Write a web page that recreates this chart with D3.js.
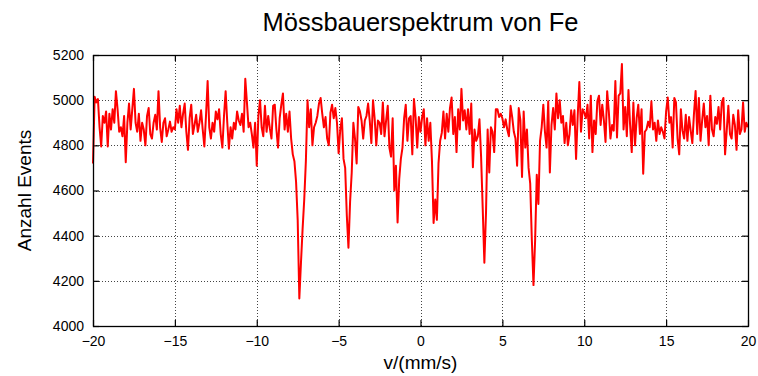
<!DOCTYPE html>
<html>
<head>
<meta charset="utf-8">
<script src="https://cdn.jsdelivr.net/npm/d3@7/dist/d3.min.js"></script>
<style>
  html, body { margin: 0; padding: 0; background: #fff; }
  svg { display: block; font-family: "Liberation Sans", Arial, Helvetica, sans-serif; }
</style>
</head>
<body>
<svg id="chart" width="758" height="376"></svg>
<script>
// Mössbauer spectrum of iron: counts per channel over the velocity sweep
const titleText = "Mössbauerspektrum von Fe";
const xLabelText = "v/(mm/s)";
const yLabelText = "Anzahl Events";

const velocityMin = -20;
const velocityMax = 20;

const xTicks = [-20, -15, -10, -5, 0, 5, 10, 15, 20];
const yTicks = [4000, 4200, 4400, 4600, 4800, 5000, 5200];

// counts per channel, channels evenly spaced from -20 to +20 mm/s
const counts = [
  4720, 5015, 4990, 5005, 4880, 4795, 4930, 4900, 4950, 4795,
  4940, 4870, 4960, 4900, 5040, 4960, 4860, 4880, 4840, 4930,
  4725, 4900, 4985, 4870, 4960, 5050, 4900, 4860, 4940, 4820,
  4900, 4870, 4800, 4930, 4965, 4850, 4830, 4900, 4935, 4870,
  5040, 4880, 4815, 4900, 4920, 4840, 4870, 4905, 4860, 4880,
  4870, 4960, 4900, 4975, 4880, 4940, 4985, 4860, 4780, 4920,
  4980, 4850, 4890, 4935, 4860, 4900, 4955, 4870, 4795, 4930,
  5085, 4880, 4830, 4900, 4860, 4950, 4915, 4960, 4850, 4790,
  4930, 5040, 4900, 4785, 4880, 4830, 4900, 4870, 4950, 4910,
  4890, 4940, 4860, 5095, 4990, 4880, 4900, 4850, 4790, 4900,
  4710, 4930, 5000, 4880, 4840, 4975, 4860, 4930, 4875, 4830,
  4975, 4980, 4870, 4790, 4920, 4980, 5030, 4870, 4940, 4860,
  4950, 4830, 4760, 4730, 4640, 4470, 4122, 4280, 4430, 4560,
  4730, 5000, 4880, 4960, 4800, 4880, 4900, 4930, 4985, 5010,
  4940, 4880, 4925, 4830, 4800, 4945, 4980, 4920, 4965, 4900,
  4765, 4870, 4920, 4740, 4700, 4490, 4347, 4550, 4680, 4900,
  4830, 4720, 4970, 4950, 4910, 4830, 4910, 4930, 4985, 4910,
  4810, 5000, 4920, 4800, 4910, 4900, 4850, 4990, 4840, 4910,
  4975, 4790, 4750, 4920, 4600, 4710, 4458, 4650, 4740, 4790,
  4920, 4980, 4820, 4920, 4930, 4760, 5005, 4925, 4790, 4925,
  4860, 4925, 4960, 4800, 4920, 4820, 4900, 4730, 4456, 4560,
  4470, 4720, 4820, 4855, 4950, 4830, 4940, 4860, 4965, 5012,
  4850, 4925, 4770, 4960, 4870, 5050, 4910, 4955, 4870, 4960,
  4850, 4985, 4703, 4870, 4820, 4840, 4915, 4750, 4520, 4280,
  4500, 4870, 4680, 4880, 4860, 4770, 4960, 4960, 4925, 4940,
  4920, 4880, 4915, 4870, 4840, 4975, 4925, 4860, 4830, 4710,
  4965, 4910, 4660, 4950, 4790, 4870, 4700, 4630, 4380, 4181,
  4380, 4670, 4540, 4820, 4880, 4980, 4860, 4790, 4995, 4680,
  4890, 4965, 4870, 5030, 4920, 5000, 4900, 4930, 4810, 4900,
  4800, 4850, 4955, 4890, 4955, 4740, 4930, 5080, 4860, 4960,
  4945, 4920, 4980, 4830, 5020, 4770, 4910, 4850, 4995, 5020,
  4890, 4980, 4910, 4815, 5040, 4950, 4830, 4890, 4865, 5085,
  4835, 5020, 5030, 5160, 4870, 4970, 4840, 5045, 4890, 4770,
  4990, 4800, 4920, 4980, 4850, 4960, 4674, 4860, 4870, 4905,
  4880, 4995, 4870, 4900, 4820, 4910, 4850, 4880, 4860, 4830,
  4950, 5012, 4900, 4925, 4790, 5010, 4990, 4830, 4760, 4960,
  4865, 4830, 4935, 4820, 4925, 4865, 4810, 4940, 5041, 4850,
  5010, 4820, 4910, 4985, 4880, 4930, 4800, 5020, 4870, 4840,
  4925, 4895, 4970, 4870, 4990, 5010, 4760, 4865, 4975, 4850,
  4830, 4935, 4890, 4780, 4955, 4850, 4870, 4990, 4860, 4900,
  4880
];

const svg = d3.select("#chart");
const margin = { left: 93, right: 10, top: 55, bottom: 50 };
const W = 758, H = 376;
const plotL = margin.left, plotR = W - margin.right;
const plotT = margin.top, plotB = H - margin.bottom;

const x = d3.scaleLinear().domain([velocityMin, velocityMax]).range([plotL, plotR]);
const y = d3.scaleLinear().domain([4000, 5200]).range([plotB, plotT]);

const channelScale = d3.scaleLinear()
  .domain([0, counts.length - 1])
  .range([velocityMin, velocityMax]);

const points = counts.map((c, i) => ({ v: channelScale(i), c }));

// dotted grid
const grid = svg.append("g").attr("class", "grid")
  .attr("stroke", "#444").attr("stroke-width", 1)
  .attr("stroke-dasharray", "1,2").attr("shape-rendering", "crispEdges");
grid.selectAll("line.gx")
  .data(xTicks.filter(t => t > velocityMin && t < velocityMax))
  .join("line").attr("class", "gx")
  .attr("x1", d => Math.round(x(d)) + 0.5).attr("x2", d => Math.round(x(d)) + 0.5)
  .attr("y1", plotT).attr("y2", plotB);
grid.selectAll("line.gy")
  .data(yTicks.filter(t => t > 4000 && t < 5200))
  .join("line").attr("class", "gy")
  .attr("y1", d => Math.round(y(d)) + 0.5).attr("y2", d => Math.round(y(d)) + 0.5)
  .attr("x1", plotL).attr("x2", plotR);

// axes with inward ticks on all four sides
const tickLen = 6;
const axisBottom = d3.axisBottom(x).tickValues(xTicks)
  .tickSize(-tickLen).tickPadding(10)
  .tickFormat(d => d < 0 ? "\u2212" + Math.abs(d) : String(d));
const axisTop = d3.axisTop(x).tickValues(xTicks).tickSize(-tickLen).tickFormat("");
const axisLeft = d3.axisLeft(y).tickValues(yTicks)
  .tickSize(-tickLen).tickPadding(9).tickFormat(d3.format("d"));
const axisRight = d3.axisRight(y).tickValues(yTicks).tickSize(-tickLen).tickFormat("");

function styleAxis(g) {
  g.select(".domain").remove();
  g.selectAll(".tick line").attr("stroke", "#000").attr("stroke-width", 1.2);
  g.selectAll(".tick text").attr("fill", "#000")
    .style("font-family", "'Liberation Sans', Arial, sans-serif")
    .style("font-size", "14px");
}

svg.append("g").attr("transform", `translate(0,${plotB})`).call(axisBottom).call(styleAxis);
svg.append("g").attr("transform", `translate(0,${plotT})`).call(axisTop).call(styleAxis);
svg.append("g").attr("transform", `translate(${plotL},0)`).call(axisLeft).call(styleAxis);
svg.append("g").attr("transform", `translate(${plotR},0)`).call(axisRight).call(styleAxis);

// spectrum line
const line = d3.line().x(d => x(d.v)).y(d => y(d.c));
svg.append("path")
  .datum(points)
  .attr("fill", "none")
  .attr("stroke", "#ff0000")
  .attr("stroke-width", 2)
  .attr("stroke-linejoin", "round")
  .attr("d", line);

// frame
svg.append("rect")
  .attr("x", plotL + 0.5).attr("y", plotT + 0.5)
  .attr("width", plotR - plotL).attr("height", plotB - plotT)
  .attr("fill", "none").attr("stroke", "#000").attr("stroke-width", 1.3);

// title and axis labels
svg.append("text")
  .attr("x", (plotL + plotR) / 2).attr("y", 31)
  .attr("text-anchor", "middle")
  .style("font-size", "25.5px")
  .text(titleText);

svg.append("text")
  .attr("x", (plotL + plotR) / 2).attr("y", 369)
  .attr("text-anchor", "middle")
  .style("font-size", "19px")
  .text(xLabelText);

svg.append("text")
  .attr("transform", `translate(31,${(plotT + plotB) / 2}) rotate(-90)`)
  .attr("text-anchor", "middle")
  .style("font-size", "19px")
  .text(yLabelText);
</script>
</body>
</html>
